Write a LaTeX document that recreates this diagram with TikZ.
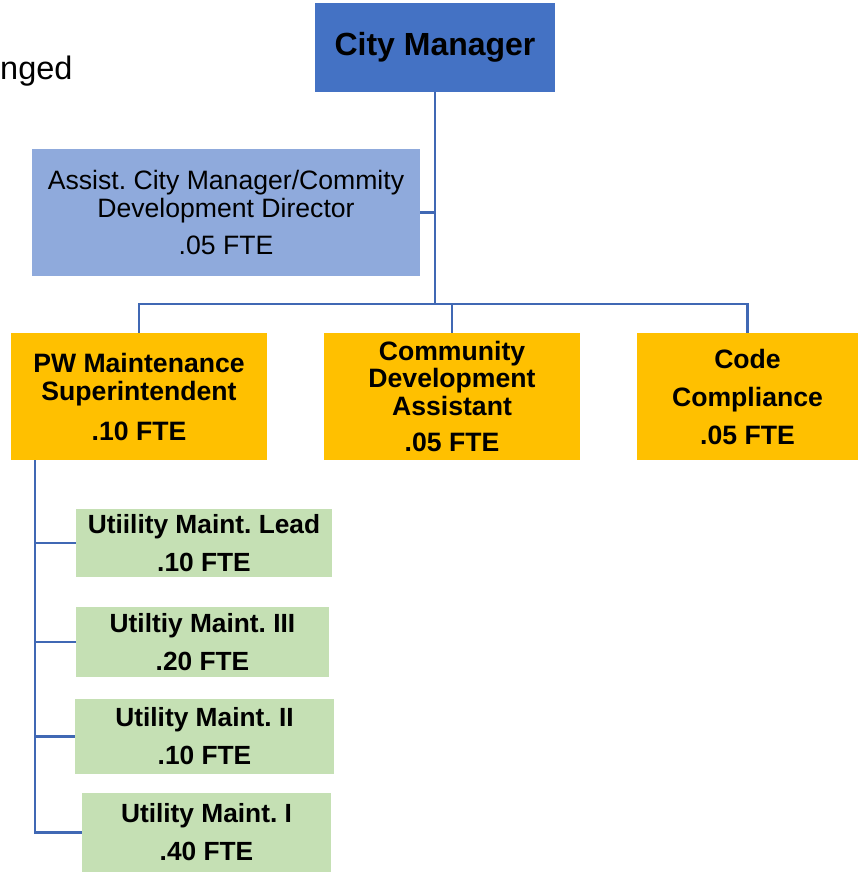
\documentclass[tikz,border=0pt]{standalone}
\usepackage{fontspec}
\setmainfont{Liberation Sans}
\frenchspacing
\definecolor{cmblue}{HTML}{4472C4}
\definecolor{acblue}{HTML}{8FAADC}
\definecolor{gold}{HTML}{FFC000}
\definecolor{leaf}{HTML}{C5E0B4}
\definecolor{wire}{HTML}{4068B4}
\begin{document}
\begin{tikzpicture}[x=1pt,y=-1pt,
  box/.style={rectangle,inner sep=0pt,align=center,text=black},
  wirestyle/.style={draw=wire,line width=2.8pt},
  lvlone/.style={box,fill=gold,minimum height=127pt,font=\bfseries\fontsize{26.6}{28}\selectfont},
  lvltwo/.style={box,fill=leaf,font=\bfseries\fontsize{26.3}{38}\selectfont}]
\useasboundingbox (0,0) rectangle (863,872);

% leftover label at the left edge
\node[anchor=base west,inner sep=0pt,font=\fontsize{32.5}{36}\selectfont] (lbl) at (0,80) {nged};

% top of the chart
\node[box,fill=cmblue,minimum width=240pt,minimum height=89pt,
      font=\bfseries\fontsize{32}{34}\selectfont] (cm) at (435,47.5) {City Manager};
\node[box,fill=acblue,minimum width=388pt,minimum height=127pt,
      font=\fontsize{26.6}{28}\selectfont] (ac) at (226,212.5)
      {Assist. City Manager/Commity\\Development Director\\[9pt].05 FTE};

% department heads
\node[lvlone,minimum width=256pt] (pw) at (139,396.5)
      {PW Maintenance\\Superintendent\\[12pt].10 FTE};
\node[lvlone,minimum width=256pt,font=\bfseries\fontsize{26.6}{27.5}\selectfont] (cda) at (452,396.5)
      {Community\\Development\\Assistant\\[9pt].05 FTE};
\node[lvlone,minimum width=221pt,font=\bfseries\fontsize{26.6}{38}\selectfont] (cc) at (747.5,396.5)
      {Code\\Compliance\\.05 FTE};

% maintenance crew
\node[lvltwo,minimum width=256pt,minimum height=68pt] (u1) at (204,543) {Utiility Maint. Lead\\.10 FTE};
\node[lvltwo,minimum width=253pt,minimum height=70pt] (u2) at (202.5,642) {Utiltiy Maint. III\\.20 FTE};
\node[lvltwo,minimum width=259pt,minimum height=75pt] (u3) at (204.5,736.5) {Utility Maint. II\\.10 FTE};
\node[lvltwo,minimum width=249pt,minimum height=79pt] (u4) at (206.5,832.5) {Utility Maint. I\\.40 FTE};

% connectors
\coordinate (j) at (435,304);
\coordinate (s) at (35,460);
\draw[wirestyle] (cm.south) -- (j);
\draw[wirestyle] (ac.east) -- (ac.east -| cm.south);
\draw[wirestyle] (j) -| (pw.north);
\draw[wirestyle] (j) -| (cda.north);
\draw[wirestyle] (j) -| (cc.north);
\draw[wirestyle] (s) |- (u4.west);
\draw[wirestyle] (s |- u1.west) -- (u1.west);
\draw[wirestyle] (s |- u2.west) -- (u2.west);
\draw[wirestyle] (s |- u3.west) -- (u3.west);
\end{tikzpicture}
\end{document}
